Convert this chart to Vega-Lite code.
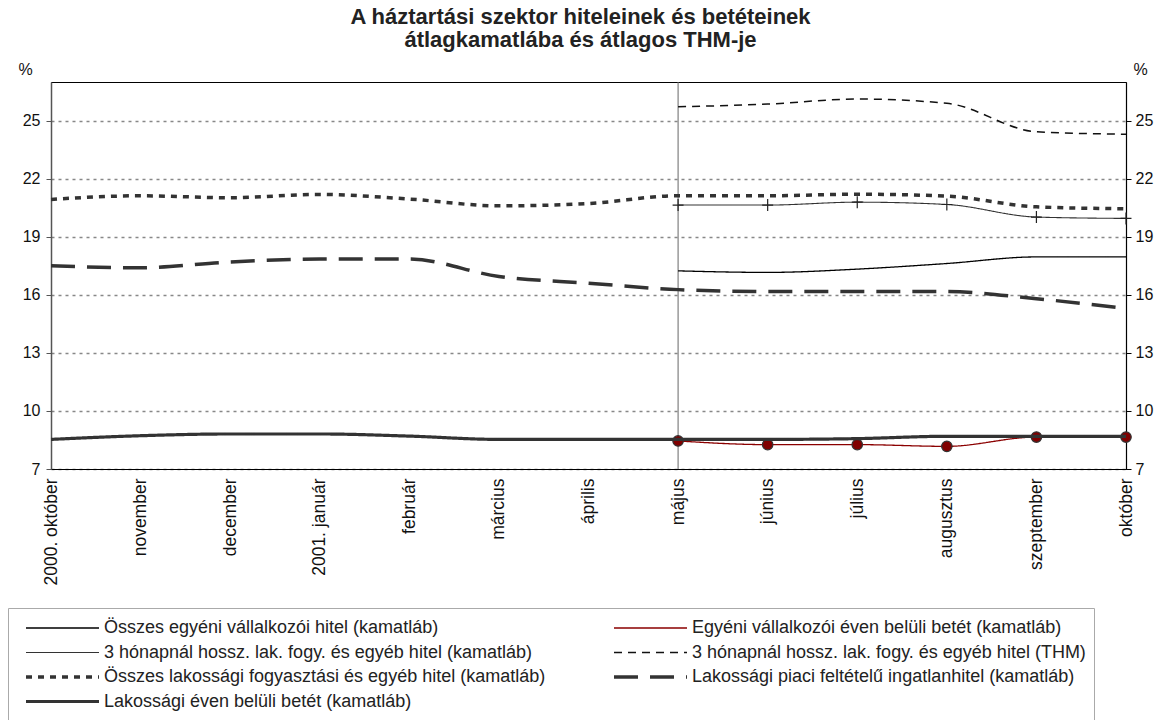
{
  "$schema": "https://vega.github.io/schema/vega-lite/v6.json",
  "width": 1075,
  "height": 387,
  "autosize": "none",
  "padding": {"left": 51, "top": 82, "right": 37, "bottom": 251},
  "title": {
    "text": ["A háztartási szektor hiteleinek és betéteinek", "átlagkamatlába és átlagos THM-je"],
    "font": "Liberation Sans", "fontSize": 22, "fontWeight": "bold", "color": "#222",
    "anchor": "middle", "offset": 9, "lineHeight": 23, "dx": -8
  },
  "config": {
    "font": "Liberation Sans",
    "view": {"stroke": "#000", "strokeWidth": 1},
    "legend": {
      "orient": "none", "legendX": -43, "legendY": 526, "columns": 2, "direction": "horizontal", "gridAlign": "all",
      "symbolType": "stroke", "symbolSize": 5329, "symbolOffset": 8, "clipHeight": 24,
      "labelFont": "Liberation Sans", "labelFontSize": 18, "labelColor": "#222",
      "labelOffset": 3, "labelLimit": 700, "columnPadding": 58, "rowPadding": 0.5,
      "padding": 8, "strokeColor": "#aaa", "fillColor": "#fff"
    }
  },
  "datasets": {
    "series": [
      {"m": "május", "s": "Összes egyéni vállalkozói hitel (kamatláb)", "v": 17.24},
      {"m": "június", "s": "Összes egyéni vállalkozói hitel (kamatláb)", "v": 17.16},
      {"m": "július", "s": "Összes egyéni vállalkozói hitel (kamatláb)", "v": 17.33},
      {"m": "augusztus", "s": "Összes egyéni vállalkozói hitel (kamatláb)", "v": 17.62},
      {"m": "szeptember", "s": "Összes egyéni vállalkozói hitel (kamatláb)", "v": 17.96},
      {"m": "október", "s": "Összes egyéni vállalkozói hitel (kamatláb)", "v": 17.96},
      {"m": "május", "s": "Egyéni vállalkozói éven belüli betét (kamatláb)", "v": 8.45},
      {"m": "június", "s": "Egyéni vállalkozói éven belüli betét (kamatláb)", "v": 8.26},
      {"m": "július", "s": "Egyéni vállalkozói éven belüli betét (kamatláb)", "v": 8.26},
      {"m": "augusztus", "s": "Egyéni vállalkozói éven belüli betét (kamatláb)", "v": 8.17},
      {"m": "szeptember", "s": "Egyéni vállalkozói éven belüli betét (kamatláb)", "v": 8.65},
      {"m": "október", "s": "Egyéni vállalkozói éven belüli betét (kamatláb)", "v": 8.65},
      {"m": "május", "s": "3 hónapnál hossz. lak. fogy. és egyéb hitel (kamatláb)", "v": 20.64},
      {"m": "június", "s": "3 hónapnál hossz. lak. fogy. és egyéb hitel (kamatláb)", "v": 20.64},
      {"m": "július", "s": "3 hónapnál hossz. lak. fogy. és egyéb hitel (kamatláb)", "v": 20.79},
      {"m": "augusztus", "s": "3 hónapnál hossz. lak. fogy. és egyéb hitel (kamatláb)", "v": 20.67},
      {"m": "szeptember", "s": "3 hónapnál hossz. lak. fogy. és egyéb hitel (kamatláb)", "v": 20.02},
      {"m": "október", "s": "3 hónapnál hossz. lak. fogy. és egyéb hitel (kamatláb)", "v": 19.95},
      {"m": "május", "s": "3 hónapnál hossz. lak. fogy. és egyéb hitel (THM)", "v": 25.72},
      {"m": "június", "s": "3 hónapnál hossz. lak. fogy. és egyéb hitel (THM)", "v": 25.86},
      {"m": "július", "s": "3 hónapnál hossz. lak. fogy. és egyéb hitel (THM)", "v": 26.12},
      {"m": "augusztus", "s": "3 hónapnál hossz. lak. fogy. és egyéb hitel (THM)", "v": 25.9},
      {"m": "szeptember", "s": "3 hónapnál hossz. lak. fogy. és egyéb hitel (THM)", "v": 24.43},
      {"m": "október", "s": "3 hónapnál hossz. lak. fogy. és egyéb hitel (THM)", "v": 24.3},
      {"m": "2000. október", "s": "Összes lakossági fogyasztási és egyéb hitel (kamatláb)", "v": 20.93},
      {"m": "november", "s": "Összes lakossági fogyasztási és egyéb hitel (kamatláb)", "v": 21.12},
      {"m": "december", "s": "Összes lakossági fogyasztási és egyéb hitel (kamatláb)", "v": 21.02},
      {"m": "2001. január", "s": "Összes lakossági fogyasztási és egyéb hitel (kamatláb)", "v": 21.19},
      {"m": "február", "s": "Összes lakossági fogyasztási és egyéb hitel (kamatláb)", "v": 20.95},
      {"m": "március", "s": "Összes lakossági fogyasztási és egyéb hitel (kamatláb)", "v": 20.6},
      {"m": "április", "s": "Összes lakossági fogyasztási és egyéb hitel (kamatláb)", "v": 20.72},
      {"m": "május", "s": "Összes lakossági fogyasztási és egyéb hitel (kamatláb)", "v": 21.12},
      {"m": "június", "s": "Összes lakossági fogyasztási és egyéb hitel (kamatláb)", "v": 21.12},
      {"m": "július", "s": "Összes lakossági fogyasztási és egyéb hitel (kamatláb)", "v": 21.2},
      {"m": "augusztus", "s": "Összes lakossági fogyasztási és egyéb hitel (kamatláb)", "v": 21.1},
      {"m": "szeptember", "s": "Összes lakossági fogyasztási és egyéb hitel (kamatláb)", "v": 20.55},
      {"m": "október", "s": "Összes lakossági fogyasztási és egyéb hitel (kamatláb)", "v": 20.45},
      {"m": "2000. október", "s": "Lakossági piaci feltételű ingatlanhitel (kamatláb)", "v": 17.5},
      {"m": "november", "s": "Lakossági piaci feltételű ingatlanhitel (kamatláb)", "v": 17.4},
      {"m": "december", "s": "Lakossági piaci feltételű ingatlanhitel (kamatláb)", "v": 17.7},
      {"m": "2001. január", "s": "Lakossági piaci feltételű ingatlanhitel (kamatláb)", "v": 17.85},
      {"m": "február", "s": "Lakossági piaci feltételű ingatlanhitel (kamatláb)", "v": 17.85},
      {"m": "március", "s": "Lakossági piaci feltételű ingatlanhitel (kamatláb)", "v": 16.95},
      {"m": "április", "s": "Lakossági piaci feltételű ingatlanhitel (kamatláb)", "v": 16.6},
      {"m": "május", "s": "Lakossági piaci feltételű ingatlanhitel (kamatláb)", "v": 16.27},
      {"m": "június", "s": "Lakossági piaci feltételű ingatlanhitel (kamatláb)", "v": 16.17},
      {"m": "július", "s": "Lakossági piaci feltételű ingatlanhitel (kamatláb)", "v": 16.17},
      {"m": "augusztus", "s": "Lakossági piaci feltételű ingatlanhitel (kamatláb)", "v": 16.17},
      {"m": "szeptember", "s": "Lakossági piaci feltételű ingatlanhitel (kamatláb)", "v": 15.8},
      {"m": "október", "s": "Lakossági piaci feltételű ingatlanhitel (kamatláb)", "v": 15.3},
      {"m": "2000. október", "s": "Lakossági éven belüli betét (kamatláb)", "v": 8.53},
      {"m": "november", "s": "Lakossági éven belüli betét (kamatláb)", "v": 8.72},
      {"m": "december", "s": "Lakossági éven belüli betét (kamatláb)", "v": 8.81},
      {"m": "2001. január", "s": "Lakossági éven belüli betét (kamatláb)", "v": 8.81},
      {"m": "február", "s": "Lakossági éven belüli betét (kamatláb)", "v": 8.7},
      {"m": "március", "s": "Lakossági éven belüli betét (kamatláb)", "v": 8.53},
      {"m": "április", "s": "Lakossági éven belüli betét (kamatláb)", "v": 8.53},
      {"m": "május", "s": "Lakossági éven belüli betét (kamatláb)", "v": 8.53},
      {"m": "június", "s": "Lakossági éven belüli betét (kamatláb)", "v": 8.53},
      {"m": "július", "s": "Lakossági éven belüli betét (kamatláb)", "v": 8.57},
      {"m": "augusztus", "s": "Lakossági éven belüli betét (kamatláb)", "v": 8.69},
      {"m": "szeptember", "s": "Lakossági éven belüli betét (kamatláb)", "v": 8.69},
      {"m": "október", "s": "Lakossági éven belüli betét (kamatláb)", "v": 8.69}
    ],
    "marker": [{"m": "május"}]
  },
  "data": {"name": "series"},
  "encoding": {
    "x": {
      "field": "m", "type": "ordinal",
      "scale": {"type": "point", "padding": 0, "domain": ["2000. október", "november", "december", "2001. január", "február", "március", "április", "május", "június", "július", "augusztus", "szeptember", "október"]},
      "axis": {"title": null, "labelAngle": -90, "labelFontSize": 17.5, "labelColor": "#111", "labelPadding": 9, "ticks": false, "domainColor": "#000", "domainWidth": 1.2, "grid": false, "labelOverlap": false}
    },
    "color": {
      "field": "s", "type": "nominal",
      "scale": {
        "domain": ["Összes egyéni vállalkozói hitel (kamatláb)", "Egyéni vállalkozói éven belüli betét (kamatláb)", "3 hónapnál hossz. lak. fogy. és egyéb hitel (kamatláb)", "3 hónapnál hossz. lak. fogy. és egyéb hitel (THM)", "Összes lakossági fogyasztási és egyéb hitel (kamatláb)", "Lakossági piaci feltételű ingatlanhitel (kamatláb)", "Lakossági éven belüli betét (kamatláb)"],
        "range": ["#000000", "#8B0000", "#333333", "#111111", "#333333", "#333333", "#333333"]
      },
      "legend": {"title": null}
    },
    "strokeDash": {
      "field": "s", "type": "nominal",
      "scale": {
        "domain": ["Összes egyéni vállalkozói hitel (kamatláb)", "Egyéni vállalkozói éven belüli betét (kamatláb)", "3 hónapnál hossz. lak. fogy. és egyéb hitel (kamatláb)", "3 hónapnál hossz. lak. fogy. és egyéb hitel (THM)", "Összes lakossági fogyasztási és egyéb hitel (kamatláb)", "Lakossági piaci feltételű ingatlanhitel (kamatláb)", "Lakossági éven belüli betét (kamatláb)"],
        "range": [[1, 0], [1, 0], [1, 0], [8, 6], [6, 6], [24, 12], [1, 0]]
      },
      "legend": {"title": null}
    },
    "strokeWidth": {
      "field": "s", "type": "nominal",
      "scale": {
        "type": "ordinal",
        "domain": ["Összes egyéni vállalkozói hitel (kamatláb)", "Egyéni vállalkozói éven belüli betét (kamatláb)", "3 hónapnál hossz. lak. fogy. és egyéb hitel (kamatláb)", "3 hónapnál hossz. lak. fogy. és egyéb hitel (THM)", "Összes lakossági fogyasztási és egyéb hitel (kamatláb)", "Lakossági piaci feltételű ingatlanhitel (kamatláb)", "Lakossági éven belüli betét (kamatláb)"],
        "range": [1.3, 1.3, 1.1, 1.5, 3.5, 3.5, 3.2]
      },
      "legend": {"title": null}
    }
  },
  "layer": [
    {
      "layer": [
        {
          "data": {"name": "marker"},
          "mark": {"type": "rule", "color": "#666", "strokeWidth": 1},
          "encoding": {"color": null, "strokeDash": null, "strokeWidth": null}
        },
        {
          "transform": [{"filter": "datum.s !== 'Lakossági éven belüli betét (kamatláb)'"}],
          "mark": {"type": "line", "interpolate": "monotone"},
          "encoding": {
            "y": {
              "field": "v", "type": "quantitative",
              "scale": {"domain": [7, 27], "nice": false, "zero": false},
              "axis": {"values": [7, 10, 13, 16, 19, 22, 25], "title": "%", "titleAngle": 0, "titleX": -26, "titleY": -8, "titleAlign": "center", "titleBaseline": "alphabetic", "titleFontSize": 16, "titleFontWeight": "normal", "titleColor": "#111", "labelFontSize": 16, "labelColor": "#111", "labelPadding": 6, "tickSize": 5, "tickColor": "#555", "domainColor": "#555", "domainWidth": 1.5, "grid": true, "gridColor": "#888", "gridDash": [3, 4], "gridWidth": 1.3}
            }
          }
        },
        {
          "transform": [{"filter": "datum.s === 'Egyéni vállalkozói éven belüli betét (kamatláb)'"}],
          "mark": {"type": "point", "filled": true, "fill": "#800000", "stroke": "#333", "strokeWidth": 1.2, "size": 110, "opacity": 1},
          "encoding": {"y": {"field": "v", "type": "quantitative"}, "color": null, "strokeDash": null, "strokeWidth": null}
        },
        {
          "transform": [{"filter": "datum.s === '3 hónapnál hossz. lak. fogy. és egyéb hitel (kamatláb)'"}],
          "mark": {"type": "point", "shape": "M-1,0L1,0M0,-1.1L0,1.1", "filled": false, "stroke": "#222", "strokeWidth": 1.2, "size": 120, "opacity": 1},
          "encoding": {"y": {"field": "v", "type": "quantitative"}, "color": null, "strokeDash": null, "strokeWidth": null}
        }
      ]
    },
    {
      "transform": [{"filter": "datum.s === 'Lakossági éven belüli betét (kamatláb)'"}],
      "mark": {"type": "line", "interpolate": "monotone"},
      "encoding": {
        "y": {
          "field": "v", "type": "quantitative",
          "scale": {"domain": [7, 27], "nice": false, "zero": false},
          "axis": {"orient": "right", "values": [7, 10, 13, 16, 19, 22, 25], "title": "%", "titleAngle": 0, "titleX": 14, "titleY": -8, "titleAlign": "center", "titleBaseline": "alphabetic", "titleFontSize": 16, "titleFontWeight": "normal", "titleColor": "#111", "labelFontSize": 16, "labelColor": "#111", "labelPadding": 4, "tickSize": 5, "tickColor": "#000", "domainColor": "#000", "domainWidth": 1.2, "grid": false}
        }
      }
    }
  ],
  "resolve": {"scale": {"y": "independent"}}
}
